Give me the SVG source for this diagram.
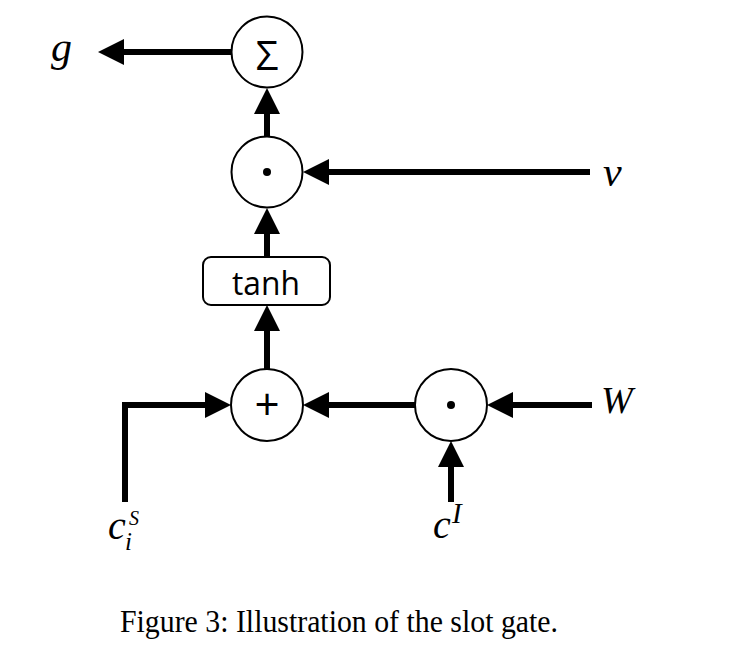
<svg xmlns="http://www.w3.org/2000/svg" width="729" height="667" viewBox="0 0 729 667">
<style>
.node{fill:#fff;stroke:#000;stroke-width:2}
.conn{fill:none;stroke:#000;stroke-width:6;stroke-linejoin:miter}
.math{font-family:"Liberation Serif",serif;font-style:italic;fill:#000}
.sans{font-family:"Open Sans","Liberation Sans",sans-serif;fill:#000}
.cap{font-family:"Liberation Serif",serif;fill:#000}
</style>
<defs>
<marker id="ah" viewBox="0 0 26 26" markerWidth="26" markerHeight="26" refX="0" refY="13" orient="auto" markerUnits="userSpaceOnUse">
<path d="M0,0 L26,13 L0,26 z" fill="#000"/>
</marker>
</defs>
<rect width="729" height="667" fill="#fff"/>
<g id="connectors">
<path class="conn" d="M231,52 H124" marker-end="url(#ah)"/>
<path class="conn" d="M267,136 V114" marker-end="url(#ah)"/>
<path class="conn" d="M590,172 H329" marker-end="url(#ah)"/>
<path class="conn" d="M267,257 V234" marker-end="url(#ah)"/>
<path class="conn" d="M267,369 V331" marker-end="url(#ah)"/>
<path class="conn" d="M125,502 V405 H205" marker-end="url(#ah)"/>
<path class="conn" d="M415,405 H329" marker-end="url(#ah)"/>
<path class="conn" d="M592,405 H513" marker-end="url(#ah)"/>
<path class="conn" d="M451,502 V467" marker-end="url(#ah)"/>
</g>
<g id="sum">
<circle class="node" cx="267" cy="52" r="35.5"/>
<text class="sans" x="267" y="70" font-size="40" text-anchor="middle">Σ</text>
</g>
<g id="mul1">
<circle class="node" cx="267" cy="172" r="35.5"/>
<circle cx="267" cy="172" r="4" fill="#000"/>
</g>
<g id="tanh">
<rect class="node" x="203" y="257" width="127" height="48" rx="8"/>
<text class="sans" x="266" y="295" font-size="32" text-anchor="middle" textLength="68" lengthAdjust="spacingAndGlyphs">tanh</text>
</g>
<g id="plus">
<circle class="node" cx="267" cy="405" r="36"/>
<text class="sans" x="267" y="420" font-size="44" text-anchor="middle">+</text>
</g>
<g id="mul2">
<circle class="node" cx="451" cy="405" r="36"/>
<circle cx="451" cy="405" r="4" fill="#000"/>
</g>
<g id="labels">
<text class="math" x="51" y="61" font-size="42">g</text>
<text class="math" x="603" y="186" font-size="42">v</text>
<text class="math" x="601" y="413" font-size="38">W</text>
<text class="math" x="108" y="539" font-size="40">c</text>
<text class="math" x="129" y="525" font-size="20">S</text>
<text class="math" x="125" y="550" font-size="25">i</text>
<text class="math" x="433" y="538" font-size="40">c</text>
<text class="math" x="452" y="523" font-size="29">I</text>
</g>
<text class="cap" x="120" y="632" font-size="32" textLength="438" lengthAdjust="spacingAndGlyphs">Figure 3: Illustration of the slot gate.</text>
</svg>
